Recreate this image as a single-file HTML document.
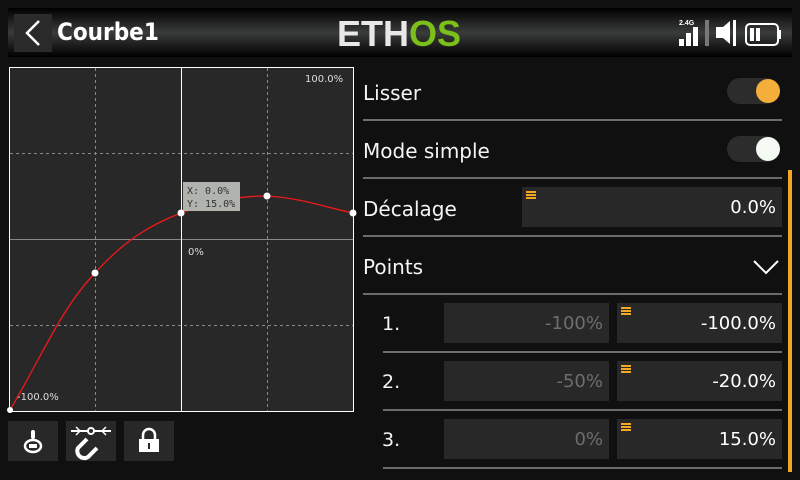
<!DOCTYPE html>
<html><head><meta charset="utf-8"><style>
*{margin:0;padding:0;box-sizing:border-box}
body{width:800px;height:480px;background:#101010;position:relative;overflow:hidden;font-family:"DejaVu Sans","Liberation Sans",sans-serif;color:#fff}
.a{position:absolute}
.hdr{left:8px;top:8px;width:784px;height:49px;background:linear-gradient(#000 0%,#1e1e1e 25%,#3a3c3c 50%,#1e1e1e 75%,#000 100%)}
.lbl{font-size:20px;color:#f4f4f4}
.sep{height:2px;background:#6c6c6c;left:363px;width:419px}
.fld{background:#282828;height:40px;font-size:18px;text-align:right;padding-right:6px;line-height:42px}
.menu{position:absolute;left:4px;top:4px;width:10px;height:8px;border-top:2px solid #f5a623;border-bottom:2px solid #f5a623}
.menu:after{content:"";position:absolute;left:0;top:1px;width:10px;height:2px;background:#f5a623}
.btn{background:#282828;width:50px;height:40px;top:421px}
</style></head><body>
<div class="a hdr"></div>
<div class="a" style="left:14px;top:14px;width:38px;height:38px;background:#2a2a2a"></div>
<svg class="a" style="left:14px;top:14px" width="38" height="38"><polyline points="25,7 13,19 25,31" fill="none" stroke="#fff" stroke-width="2.5"/></svg>
<div class="a" style="left:57px;top:18px;font-size:24px;font-weight:bold;font-family:'DejaVu Sans Condensed','DejaVu Sans',sans-serif">Courbe1</div>
<div class="a" style="left:337px;top:13px;font-size:36px;font-weight:bold;letter-spacing:0;transform:scaleX(1.0);transform-origin:left;font-family:'Liberation Sans',sans-serif"><span style="color:#e8e8e8">ETH</span><span style="color:#7cbf1a">OS</span></div>
<svg class="a" style="left:676px;top:16px" width="110" height="34">
<text x="3" y="9" font-size="7" font-weight="bold" fill="#fff" font-family="Liberation Sans">2.4G</text>
<rect x="3" y="23" width="5" height="7" fill="#fff"/><rect x="10" y="17" width="5" height="13" fill="#fff"/><rect x="17" y="11" width="5" height="19" fill="#fff"/>
<rect x="29" y="4" width="4" height="26" fill="#777"/>
<polygon points="40,11 47,11 54,5 54,28 47,22 40,22" fill="#fff"/><rect x="57" y="4" width="3" height="26" fill="#fff"/>
<rect x="70" y="8" width="32" height="21" rx="4" fill="none" stroke="#fff" stroke-width="2"/><rect x="102" y="14" width="3" height="9" fill="#fff"/>
<rect x="74" y="12" width="4" height="13" fill="#fff"/><rect x="80" y="12" width="4" height="13" fill="#fff"/>
</svg>

<svg class="a" style="left:0;top:60px" width="360" height="360">
<rect x="9.5" y="7.5" width="344" height="344" fill="#282828" stroke="#fff"/>
<g stroke="#888" stroke-dasharray="3,3"><line x1="95.5" y1="8" x2="95.5" y2="351"/><line x1="267.5" y1="8" x2="267.5" y2="351"/><line x1="10" y1="93.5" x2="353" y2="93.5"/><line x1="10" y1="265.5" x2="353" y2="265.5"/></g>
<line x1="10" y1="179.5" x2="353" y2="179.5" stroke="#888"/>
<line x1="181.5" y1="8" x2="181.5" y2="351" stroke="#fff"/>
<path d="M10,350 C40,300 60,250 95,213 C125,180 150,165 181,153 C215,140 240,136 267,136 C300,138 325,147 353,153" fill="none" stroke="#f01818" stroke-width="1.3"/>
<rect x="183" y="122" width="57" height="29" fill="#b0b3ae"/>
<text x="187" y="134" font-size="10" fill="#333" font-family="DejaVu Sans Mono">X: 0.0%</text>
<text x="187" y="147" font-size="10" fill="#333" font-family="DejaVu Sans Mono">Y: 15.0%</text>
<g fill="#fff"><circle cx="95" cy="213" r="3.5"/><circle cx="181" cy="153" r="3.5"/><circle cx="267" cy="136" r="3.5"/><circle cx="353" cy="153" r="3.5"/><circle cx="10" cy="350" r="3"/></g>
<text x="305" y="22" font-size="10" fill="#ddd">100.0%</text>
<text x="188" y="195" font-size="10" fill="#ddd">0%</text>
<text x="17" y="340" font-size="10" fill="#ddd">-100.0%</text>
</svg>

<div class="a btn" style="left:8px"></div>
<svg class="a" style="left:8px;top:421px" width="50" height="40"><rect x="23" y="9" width="4" height="9" rx="2" fill="#fff"/><ellipse cx="25" cy="25" rx="8" ry="6" fill="none" stroke="#fff" stroke-width="2.5"/><rect x="21" y="23" width="8" height="4" fill="#fff"/></svg>
<div class="a btn" style="left:66px"></div>
<svg class="a" style="left:66px;top:421px" width="50" height="40"><line x1="5" y1="10" x2="45" y2="10" stroke="#fff" stroke-width="2"/><circle cx="25" cy="10" r="3" fill="#282828" stroke="#fff" stroke-width="2"/><polyline points="10,6 14,10 10,14" fill="none" stroke="#fff" stroke-width="1.5"/><polyline points="40,6 36,10 40,14" fill="none" stroke="#fff" stroke-width="1.5"/><path d="M21,18 L12,27 A7,7 0 0 0 22,36 L31,27" fill="none" stroke="#fff" stroke-width="4"/></svg>
<div class="a btn" style="left:124px"></div>
<svg class="a" style="left:124px;top:421px" width="50" height="40"><path d="M19,18 V14 A6,6 0 0 1 31,14 V18" fill="none" stroke="#fff" stroke-width="2.5"/><rect x="15" y="18" width="20" height="13" fill="#fff"/><rect x="24" y="22" width="2" height="6" fill="#282828"/></svg>

<div class="a lbl" style="left:363px;top:81px">Lisser</div>
<div class="a" style="left:727px;top:78px;width:52px;height:26px;border-radius:13px;background:#2c2c2c"></div>
<div class="a" style="left:756px;top:79px;width:24px;height:24px;border-radius:12px;background:#f5ae3a"></div>
<div class="a sep" style="top:119px"></div>
<div class="a lbl" style="left:363px;top:139px">Mode simple</div>
<div class="a" style="left:727px;top:136px;width:52px;height:26px;border-radius:13px;background:#2c2c2c"></div>
<div class="a" style="left:756px;top:137px;width:24px;height:24px;border-radius:12px;background:#f5faf5"></div>
<div class="a sep" style="top:177px"></div>
<div class="a lbl" style="left:363px;top:197px">Décalage</div>
<div class="a fld" style="left:522px;top:187px;width:260px"><span class="menu"></span>0.0%</div>
<div class="a sep" style="top:235px"></div>
<div class="a lbl" style="left:363px;top:255px">Points</div>
<svg class="a" style="left:752px;top:258px" width="28" height="18"><polyline points="2,3 14,15 26,3" fill="none" stroke="#fff" stroke-width="2"/></svg>
<div class="a sep" style="top:293px"></div>

<div class="a lbl" style="left:382px;top:313px;font-size:19px">1.</div>
<div class="a fld" style="left:444px;top:303px;width:165px;color:#6e6e6e">-100%</div>
<div class="a fld" style="left:617px;top:303px;width:165px"><span class="menu"></span>-100.0%</div>
<div class="a sep" style="top:351px;left:383px;width:399px"></div>
<div class="a lbl" style="left:382px;top:371px;font-size:19px">2.</div>
<div class="a fld" style="left:444px;top:361px;width:165px;color:#6e6e6e">-50%</div>
<div class="a fld" style="left:617px;top:361px;width:165px"><span class="menu"></span>-20.0%</div>
<div class="a sep" style="top:409px;left:383px;width:399px"></div>
<div class="a lbl" style="left:382px;top:429px;font-size:19px">3.</div>
<div class="a fld" style="left:444px;top:419px;width:165px;color:#6e6e6e">0%</div>
<div class="a fld" style="left:617px;top:419px;width:165px"><span class="menu"></span>15.0%</div>
<div class="a sep" style="top:467px;left:383px;width:399px"></div>

<div class="a" style="left:788px;top:170px;width:4px;height:302px;background:#f5a623"></div>
</body></html>
